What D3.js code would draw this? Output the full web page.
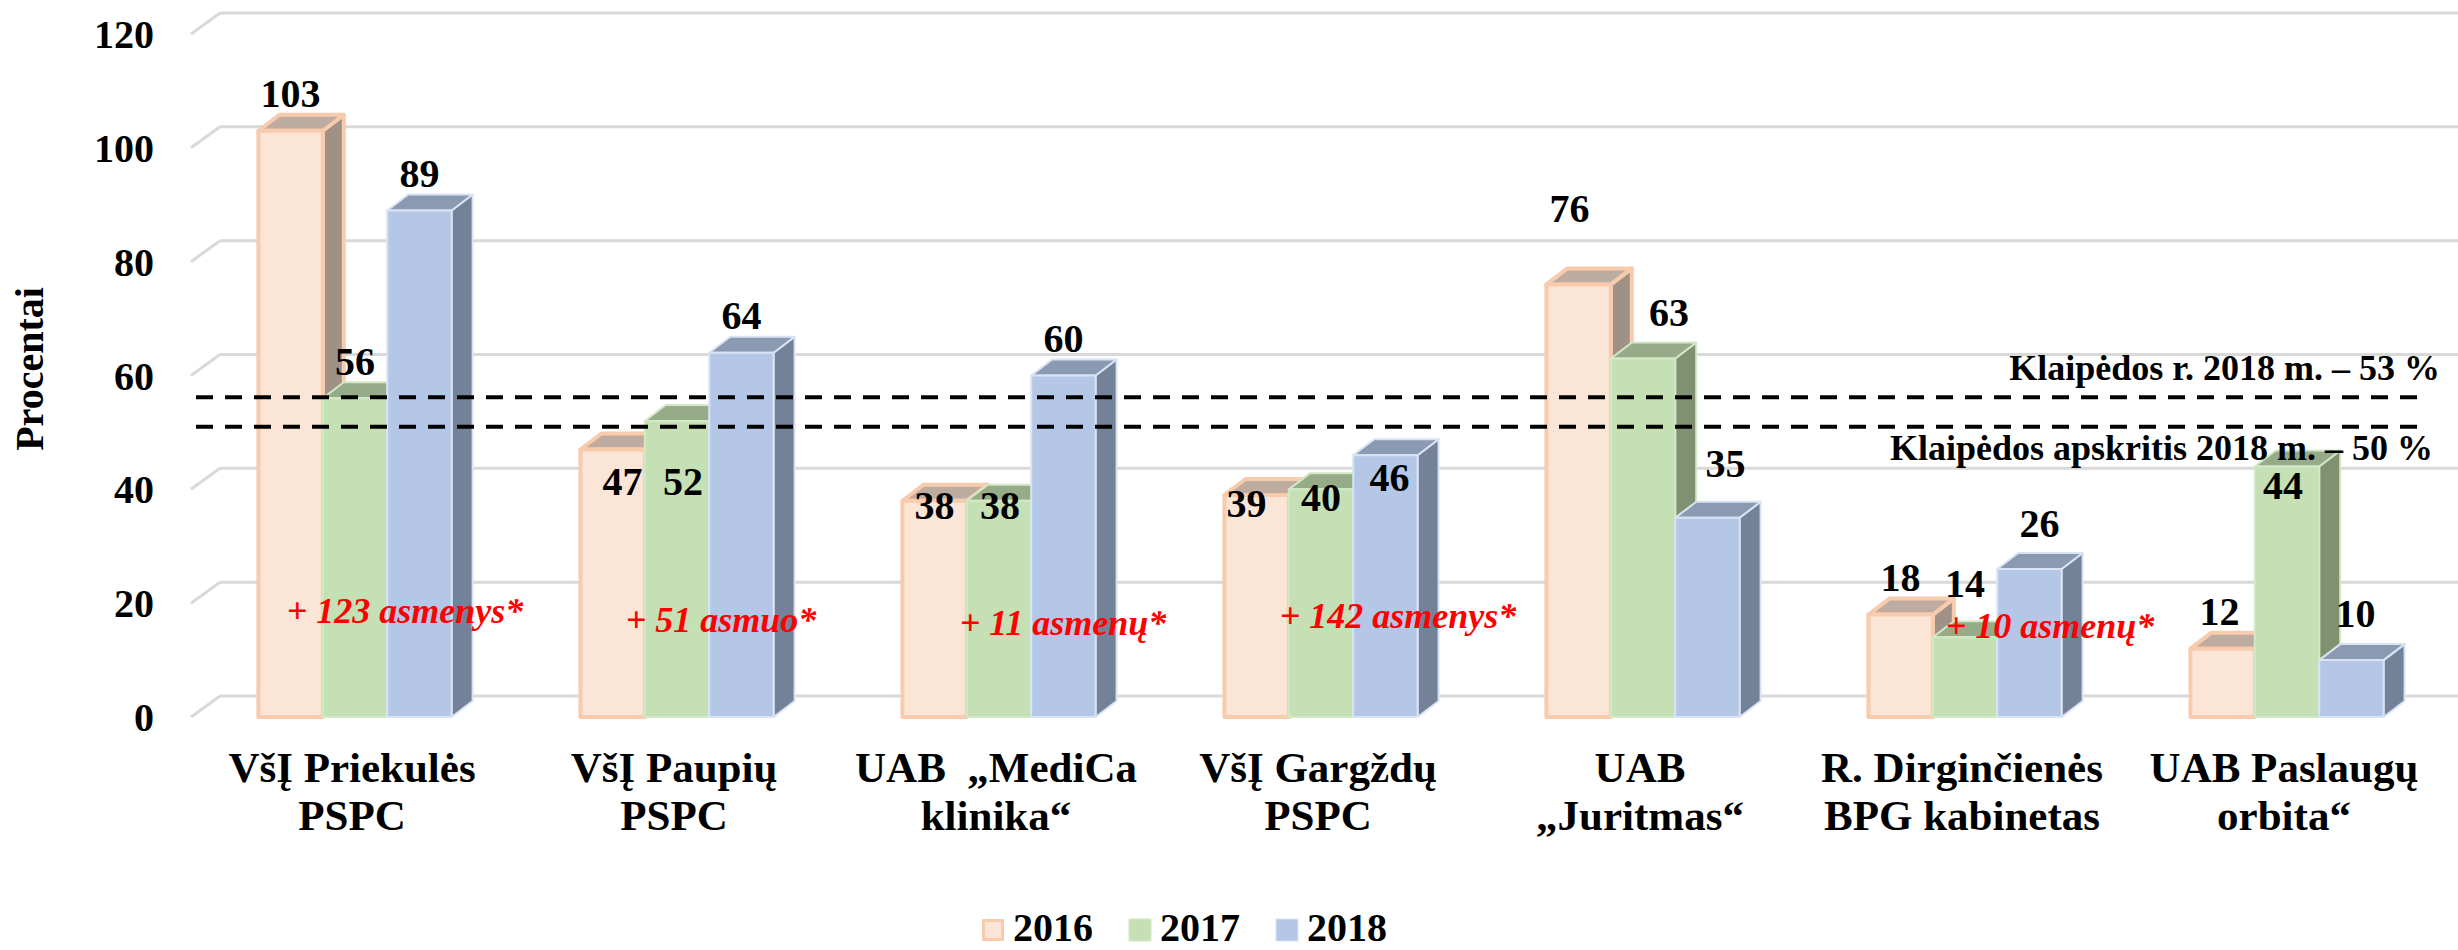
<!DOCTYPE html>
<html>
<head>
<meta charset="utf-8">
<script src="https://cdn.jsdelivr.net/npm/d3@7"></script>
<style>
  html, body { margin: 0; padding: 0; background: #fff; }
  #chart { width: 2458px; height: 950px; }
  text { font-family: "Liberation Serif", "Times New Roman", serif; font-weight: bold; }
</style>
</head>
<body>
<div id="chart"></div>
<script>
// chart values
const categories = [
    'VšĮ Priekulės|PSPC',
    'VšĮ Paupių|PSPC',
    'UAB  „MediCa|klinika“',
    'VšĮ Gargždų|PSPC',
    'UAB|„Juritmas“',
    'R. Dirginčienės|BPG kabinetas',
    'UAB Paslaugų|orbita“'
];
const years = ['2016', '2017', '2018'];
const values2016 = [103, 47, 38, 39, 76, 18, 12];
const values2017 = [56, 52, 38, 40, 63, 14, 44];
const values2018 = [89, 64, 60, 46, 35, 26, 10];
const yTicks = [0, 20, 40, 60, 80, 100, 120];

// dashed reference lines (levels as drawn in the picture)
const refLevels = [56.2, 51];
const refTexts = ['Klaipėdos r. 2018 m. – 53 %', 'Klaipėdos apskritis 2018 m. – 50 %'];

// extra persons notes
const noteGroups = [0, 1, 2, 3, 5];
const noteTexts = ['+ 123 asmenys*', '+ 51 asmuo*', '+ 11 asmenų*', '+ 142 asmenys*', '+ 10 asmenų*'];

const seriesValues = [values2016, values2017, values2018];

const colors = [
    {front: '#fbe5d6', top: '#bfaca0', side: '#a09186', stroke: '#f8cbad', sw: 4},
    {front: '#c5e0b4', top: '#96ab87', side: '#7f9170', stroke: '#d3e8c5', sw: 2},
    {front: '#b4c7e7', top: '#8a9ab3', side: '#738199', stroke: '#dae3f3', sw: 2}
];

// hand placed label offsets in the original (px), per year per group
const labelNudge = [
    [[0, 0], [10, 69], [0, 42], [-10, 45], [-9, -39], [0, 0], [-3, 0]],
    [[0, 0], [6, 97], [1, 42], [0, 45], [26, -9], [0, -17], [-4, 56]],
    [[0, 0], [0, 0], [0, 0], [4, 59], [18, -17], [10, -9], [4, -10]]
];
const noteNudge = [[50, -3], [44, 6], [64, 9], [77, 2], [85, 12]];

const width = 2458, height = 950;
const depth = {x: 21, y: 16};
const wall = {x: 29, y: 21};

const svg = d3.select('#chart')
    .append('svg')
    .attr('width', width)
    .attr('height', height);

const x = d3.scaleBand()
    .domain(categories)
    .range([194, 2448])
    .paddingInner(0)
    .paddingOuter(0);

const y = d3.scaleLinear()
    .domain([0, 120])
    .range([717, 34]);

const groupW = x.bandwidth() * 0.6;
const barW = groupW / 3;
const barX = (cat, i) => x(cat) + (x.bandwidth() - groupW) / 2 + i * barW;

// back wall grid
const grid = svg.append('g');
yTicks.forEach(t => {
    grid.append('line')
        .attr('x1', 191).attr('y1', y(t))
        .attr('x2', 191 + wall.x).attr('y2', y(t) - wall.y)
        .attr('stroke', '#d9d9d9').attr('stroke-width', 3);
    grid.append('line')
        .attr('x1', 191 + wall.x).attr('y1', y(t) - wall.y)
        .attr('x2', width).attr('y2', y(t) - wall.y)
        .attr('stroke', '#d9d9d9').attr('stroke-width', 3);
});

// y tick labels
svg.append('g').selectAll('text')
    .data(yTicks)
    .enter()
    .append('text')
    .attr('x', 154)
    .attr('y', d => y(d))
    .attr('dy', '0.35em')
    .attr('text-anchor', 'end')
    .style('font-size', '40px')
    .text(d => d);

svg.append('text')
    .attr('transform', 'translate(43,369) rotate(-90)')
    .attr('text-anchor', 'middle')
    .style('font-size', '40px')
    .text('Procentai');

// 3d bars
const bars = svg.append('g');
categories.forEach((cat, k) => {
    seriesValues.forEach((vals, i) => {
        const v = vals[k];
        const c = colors[i];
        const x0 = barX(cat, i);
        const x1 = x0 + barW;
        const yv = y(v), y0 = y(0);
        const g = bars.append('g')
            .attr('stroke', c.stroke)
            .attr('stroke-width', c.sw)
            .attr('stroke-linejoin', 'round');
        g.append('polygon')
            .attr('points', [[x1, yv], [x1 + depth.x, yv - depth.y], [x1 + depth.x, y0 - depth.y], [x1, y0]].join(' '))
            .attr('fill', c.side);
        g.append('polygon')
            .attr('points', [[x0, yv], [x0 + depth.x, yv - depth.y], [x1 + depth.x, yv - depth.y], [x1, yv]].join(' '))
            .attr('fill', c.top);
        g.append('rect')
            .attr('x', x0).attr('y', yv)
            .attr('width', barW).attr('height', y0 - yv)
            .attr('fill', c.front);
    });
});

// dashed reference lines
refLevels.forEach(lv => {
    svg.append('line')
        .attr('x1', 196).attr('x2', 2425)
        .attr('y1', y(lv)).attr('y2', y(lv))
        .attr('stroke', '#000')
        .attr('stroke-width', 4)
        .attr('stroke-dasharray', '17,12');
});

svg.append('text')
    .attr('x', 2440).attr('y', y(refLevels[0]) - 17)
    .attr('text-anchor', 'end')
    .style('font-size', '36px')
    .text(refTexts[0]);

// value labels
categories.forEach((cat, k) => {
    seriesValues.forEach((vals, i) => {
        const v = vals[k];
        const n = labelNudge[i][k];
        svg.append('text')
            .attr('x', barX(cat, i) + barW / 2 + n[0])
            .attr('y', y(v) - 37.5 + n[1])
            .attr('dy', '0.35em')
            .attr('text-anchor', 'middle')
            .style('font-size', '40px')
            .text(v);
    });
});

svg.append('text')
    .attr('x', 2433).attr('y', y(refLevels[1]) + 33)
    .attr('text-anchor', 'end')
    .style('font-size', '36px')
    .text(refTexts[1]);

// notes
noteTexts.forEach((t, j) => {
    const cat = categories[noteGroups[j]];
    svg.append('text')
        .attr('x', x(cat) + x.bandwidth() / 2 + noteNudge[j][0])
        .attr('y', y(16) + noteNudge[j][1])
        .attr('text-anchor', 'middle')
        .attr('fill', '#ff0000')
        .style('font-style', 'italic')
        .style('font-size', '36px')
        .text(t);
});

// category labels
categories.forEach(cat => {
    const lines = cat.split('|');
    const t = svg.append('text')
        .attr('text-anchor', 'middle')
        .style('font-size', '43px')
        .style('white-space', 'pre');
    lines.forEach((ln, li) => {
        t.append('tspan')
            .attr('x', x(cat) + x.bandwidth() / 2 - 3)
            .attr('y', 782 + li * 48)
            .text(ln);
    });
});

// legend
const legend = svg.append('g');
years.forEach((yr, i) => {
    const lx = 982 + i * 147;
    const c = colors[i];
    legend.append('rect')
        .attr('x', lx + (i === 0 ? 1.5 : 0)).attr('y', 919 + (i === 0 ? 1.5 : 0))
        .attr('width', i === 0 ? 19 : 22).attr('height', i === 0 ? 19 : 22)
        .attr('fill', c.front)
        .attr('stroke', c.stroke)
        .attr('stroke-width', i === 0 ? 3 : 1);
    legend.append('text')
        .attr('x', lx + 31).attr('y', 941)
        .style('font-size', '40px')
        .text(yr);
});
</script>
</body>
</html>
